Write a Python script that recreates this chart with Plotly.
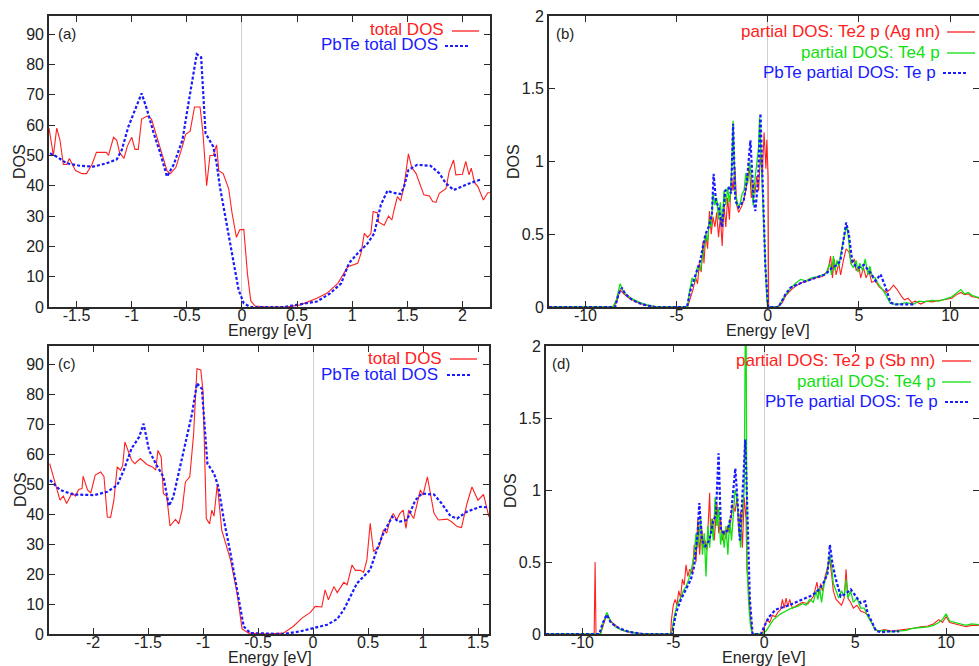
import plotly.graph_objects as go

W, H = 979, 666

# ---------------- data ----------------
# (a) total DOS
a_tot_E = [-1.75, -1.71, -1.68, -1.65, -1.62, -1.59, -1.565, -1.54, -1.51, -1.45, -1.41, -1.36, -1.32, -1.23, -1.21,
           -1.165, -1.135, -1.11, -1.07, -1.04, -1.0, -0.97, -0.94, -0.91, -0.86, -0.82, -0.77, -0.73, -0.68, -0.65,
           -0.60, -0.54, -0.51, -0.47, -0.43, -0.38, -0.355, -0.32, -0.29, -0.26, -0.23, -0.21, -0.17, -0.12, -0.09,
           -0.05, -0.02, 0.017, 0.05, 0.08, 0.12, 0.23, 0.41, 0.53, 0.68, 0.77, 0.87, 0.96, 1.05, 1.08, 1.11, 1.14,
           1.17, 1.19, 1.23, 1.24, 1.29, 1.33, 1.36, 1.38, 1.41, 1.44, 1.47, 1.51, 1.54, 1.58, 1.61, 1.65, 1.70, 1.73,
           1.76, 1.79, 1.85, 1.88, 1.92, 1.94, 2.00, 2.03, 2.06, 2.08, 2.11, 2.14, 2.19, 2.23, 2.26]
a_tot_DOS = [59, 50, 59, 55, 47, 47, 49, 47, 45, 44, 44, 47, 51, 51, 50,
             56, 55, 51, 49, 53, 56, 52, 52, 62, 63, 62, 56, 51, 45, 44,
             46, 53, 57, 58, 66, 66, 58, 40, 50, 50, 53.5, 45, 44, 39, 31,
             23, 25.5, 25.6, 11, 2, 0.3, 0, 0, 0.7, 2.9, 4.5, 7.8, 13.3, 14.4, 17.7, 24.3, 23,
             24.3, 31.5, 31, 28, 27, 30, 28.7, 32, 36.4, 35, 39.7, 50.5, 46, 44, 41, 37, 36.6, 34.8,
             34.5, 37.5, 39, 44.7, 48.5, 43.6, 43.8, 48, 43.6, 45.8, 41, 39.7, 35.3, 37.7, 37.7]
# (a) PbTe total DOS
a_pbte_E = [-1.74, -1.68, -1.59, -1.47, -1.35, -1.23, -1.135, -1.09, -1.03, -0.97, -0.91, -0.86, -0.80, -0.74, -0.68,
            -0.62, -0.54, -0.48, -0.44, -0.41, -0.37, -0.33, -0.26, -0.23, -0.20, -0.15, -0.09, -0.03, 0.017, 0.077,
            0.38, 0.50, 0.68, 0.80, 0.90, 0.97, 1.05, 1.14, 1.20, 1.26, 1.32, 1.36, 1.44, 1.47, 1.51, 1.59, 1.71,
            1.79, 1.85, 1.92, 2.05, 2.17]
a_pbte_DOS = [50.7, 49.6, 47.4, 46.6, 46.3, 47.4, 48.7, 51.8, 59.5, 65, 70.5, 65, 57.3, 50.7, 43,
              46.9, 55, 68.3, 77, 83.4, 82.4, 57.3, 52.9, 47.4, 39.7, 29.8, 17.7, 5.6, 1.2, 0,
              0, 0.7, 1.8, 4.5, 7.8, 14.4, 17.7, 21, 24.3, 33.7, 38.4, 37.7, 37.3, 39.7, 45.2, 46.9, 46.6,
              44.1, 40.8, 38.6, 40.6, 42.1]

# (c) total DOS
c_tot_E = [-2.394, -2.36, -2.33, -2.30, -2.27, -2.24, -2.19, -2.16, -2.13, -2.10, -2.09, -2.05, -2.02, -1.98, -1.93,
           -1.90, -1.87, -1.84, -1.81, -1.78, -1.75, -1.73, -1.71, -1.68, -1.65, -1.62, -1.57, -1.51, -1.46, -1.43,
           -1.41, -1.38, -1.36, -1.33, -1.30, -1.25, -1.22, -1.19, -1.16, -1.12, -1.085, -1.055, -1.02, -1.00, -0.97,
           -0.94, -0.92, -0.90, -0.87, -0.83, -0.75, -0.69, -0.645, -0.585, -0.42, -0.27, -0.18, -0.10, -0.024, 0.02,
           0.08, 0.11, 0.14, 0.19, 0.22, 0.28, 0.31, 0.355, 0.385, 0.43, 0.46, 0.49, 0.52, 0.55, 0.60, 0.64, 0.67,
           0.70, 0.73, 0.76, 0.79, 0.82, 0.845, 0.87, 0.915, 0.976, 1.0, 1.04, 1.10, 1.14, 1.22, 1.26, 1.31, 1.35,
           1.40, 1.445, 1.50, 1.55, 1.60]
c_tot_DOS = [56.8, 52.4, 48, 44.6, 46, 43.5, 47, 46, 48.2, 48.5, 52.6, 48, 47, 53, 54,
             52.4, 39, 38.9, 44.6, 55.7, 54.6, 56.2, 64, 61.2, 58, 56.8, 58.5, 56.5, 55.7, 54.6,
             61.2, 59, 46.8, 46, 36, 38.2, 36.7, 41.3, 50.7, 52.4, 66.8, 88.4, 88, 81, 38.5,
             36.7, 41.3, 39.3, 50, 34.7, 24.7, 13.6, 1.7, 0.3, 0, 0.3, 2.5, 5.3, 7.2, 9.2,
             9, 14.7, 11.4, 15.8, 13.8, 17.2, 16.4, 23, 21.2, 21.2, 20.5, 24.7, 36.9, 27.5, 29.1, 34.7, 33.6,
             38, 40.2, 38, 40.2, 41.3, 35.2, 41.3, 38.5, 48, 46.3, 52.4, 40.2, 38, 38.3, 37.4, 35.8, 35.5,
             43.5, 49, 44.6, 46.5, 39]
# (c) PbTe total DOS
c_pbte_E = [-2.39, -2.30, -2.18, -1.99, -1.87, -1.78, -1.72, -1.65, -1.58, -1.54, -1.49, -1.43, -1.36, -1.31, -1.27,
            -1.21, -1.15, -1.10, -1.055, -1.01, -0.96, -0.90, -0.86, -0.81, -0.75, -0.69, -0.63, -0.57, -0.27, -0.115,
            0.006, 0.13, 0.22, 0.28, 0.34, 0.40, 0.52, 0.58, 0.64, 0.72, 0.78, 0.855, 0.93, 0.99, 1.10, 1.17, 1.25,
            1.31, 1.40, 1.52, 1.60]
c_pbte_DOS = [51.3, 48, 46.5, 46.3, 47.4, 49.6, 54.6, 61.8, 65.7, 70.1, 61.2, 56.8, 52.4, 42.7, 45.7,
              55.7, 64.6, 73.4, 83.6, 81.7, 56.8, 53.5, 49, 38, 26.9, 14.7, 2.5, 0.3, 0, 0.9,
              2, 3.1, 5, 8.1, 12.5, 16.9, 21.4, 28, 33.6, 39.1, 37.4, 38, 44.6, 46.8, 46.5, 43.5, 39.3,
              38.5, 40.8, 42.4, 42.2]

# (b) partial DOS: Te2 p (Ag nn)
b_te2_E = [-12, -8.5, -8.3, -8.1, -7.9, -7.6, -7.2, -6.8, -6.3, -6.0, -4.4, -4.3, -4.1, -3.95, -3.85, -3.75, -3.65,
           -3.55, -3.5, -3.4, -3.3, -3.2, -3.1, -3.0, -2.9, -2.8, -2.7, -2.6, -2.5, -2.4, -2.3, -2.2, -2.1, -2.0,
           -1.9, -1.8, -1.7, -1.6, -1.4, -1.3, -1.2, -1.1, -1.0, -0.9, -0.8, -0.7, -0.6, -0.5, -0.4, -0.3, -0.2,
           -0.1, -0.05, 0.02, 0.05, 0.5, 0.8, 1.0, 1.3, 1.6, 1.9, 2.2, 2.6, 3.0, 3.3, 3.45, 3.55, 3.65, 3.75, 3.9,
           4.0, 4.15, 4.3, 4.45, 4.6, 4.75, 4.85, 5.0, 5.1, 5.25, 5.4, 5.55, 5.7, 5.9, 6.1, 6.3, 6.5, 6.7, 6.9,
           7.1, 7.3, 7.5, 7.7, 7.9, 8.1, 8.4, 8.7, 9.0, 9.4, 9.8, 10.1, 10.3, 10.6, 10.8, 11.0, 11.2, 11.5, 11.7]
b_te2_DOS = [0, 0, 0.03, 0.12, 0.09, 0.06, 0.035, 0.015, 0.003, 0, 0, 0.04, 0.12, 0.2, 0.16, 0.3, 0.24,
             0.45, 0.3, 0.5, 0.4, 0.66, 0.5, 0.62, 0.55, 0.65, 0.48, 0.62, 0.42, 0.7, 0.55, 0.75, 0.6, 0.9,
             0.8, 0.96, 0.7, 0.65, 0.7, 0.75, 0.8, 0.9, 0.95, 0.75, 0.85, 0.78, 0.9, 0.8, 1.05, 0.9, 1.2,
             0.95, 1.15, 0.9, 0.0, 0, 0.03, 0.08, 0.12, 0.15, 0.17, 0.18, 0.2, 0.21, 0.25, 0.35, 0.2, 0.33, 0.22, 0.3,
             0.22, 0.32, 0.4, 0.38, 0.3, 0.33, 0.25, 0.28, 0.2, 0.27, 0.2, 0.25, 0.17, 0.18, 0.14, 0.12, 0.1, 0.12, 0.15,
             0.12, 0.08, 0.05, 0.06, 0.03, 0.04, 0.02, 0.04, 0.035, 0.045, 0.05, 0.06, 0.08, 0.1, 0.085, 0.09, 0.07, 0.065, 0.05]
# (b) partial DOS: Te4 p
b_te4_E = [-12, -8.5, -8.3, -8.1, -7.9, -7.5, -7.0, -6.5, -6.0, -4.4, -4.3, -4.15, -4.0, -3.85, -3.7, -3.6, -3.5,
           -3.4, -3.3, -3.2, -3.1, -3.0, -2.9, -2.8, -2.7, -2.6, -2.5, -2.4, -2.3, -2.2, -2.1, -2.0, -1.9, -1.8,
           -1.7, -1.6, -1.5, -1.4, -1.3, -1.2, -1.1, -1.0, -0.9, -0.8, -0.7, -0.6, -0.5, -0.45, -0.35, -0.25, -0.15,
           -0.05, 0.0, 0.6, 0.9, 1.2, 1.5, 1.8, 2.1, 2.4, 2.8, 3.2, 3.4, 3.5, 3.6, 3.7, 3.8, 3.9, 4.0, 4.1, 4.25,
           4.35, 4.45, 4.55, 4.7, 4.85, 4.95, 5.05, 5.2, 5.35, 5.5, 5.6, 5.75, 5.9, 6.1, 6.3, 6.5, 6.7, 6.9, 7.2,
           7.6, 8.0, 8.3, 8.6, 9.0, 9.4, 9.8, 10.1, 10.4, 10.6, 10.8, 11.0, 11.2, 11.5, 11.7]
b_te4_DOS = [0, 0, 0.05, 0.16, 0.1, 0.06, 0.03, 0.01, 0, 0, 0.1, 0.2, 0.17, 0.28, 0.25, 0.32, 0.4,
             0.5, 0.45, 0.6, 0.55, 0.78, 0.7, 0.75, 0.6, 0.72, 0.55, 0.8, 0.7, 0.82, 0.72, 0.85, 1.28, 0.8,
             0.75, 0.68, 0.72, 0.78, 0.8, 0.92, 0.85, 1.0, 0.9, 0.7, 0.88, 1.0, 1.1, 1.3, 1.0, 0.7, 0.3,
             0.05, 0, 0, 0.07, 0.12, 0.16, 0.19, 0.18, 0.2, 0.21, 0.23, 0.3, 0.22, 0.35, 0.25, 0.32, 0.28, 0.36, 0.42, 0.52,
             0.55, 0.45, 0.3, 0.27, 0.32, 0.24, 0.3, 0.25, 0.33, 0.22, 0.28, 0.2, 0.2, 0.15, 0.12, 0.08, 0.03, 0.02, 0.02,
             0.03, 0.02, 0.04, 0.035, 0.045, 0.04, 0.06, 0.07, 0.1, 0.12, 0.09, 0.1, 0.08, 0.07, 0.06]
# (b) PbTe partial DOS: Te p
b_pbte_E = [-12, -8.37, -8.19, -8.0, -7.82, -7.45, -6.9, -6.17, -4.43, -4.25, -4.07, -3.88, -3.70, -3.42, -3.24,
            -3.06, -2.97, -2.84, -2.69, -2.51, -2.33, -2.14, -2.01, -1.90, -1.78, -1.59, -1.32, -1.14, -0.95, -0.77,
            -0.68, -0.53, -0.40, -0.27, -0.13, 0.02, 0.6, 0.97, 1.25, 1.89, 2.62, 3.17, 3.53, 3.81, 3.99, 4.18, 4.30,
            4.45, 4.63, 4.82, 5.0, 5.27, 5.55, 5.92, 6.19, 6.47, 6.74, 7.01, 8.1]
b_pbte_DOS = [0, 0, 0.087, 0.133, 0.09, 0.05, 0.018, 0, 0, 0.11, 0.18, 0.25, 0.32, 0.50, 0.55,
              0.64, 0.915, 0.73, 0.685, 0.55, 0.80, 0.82, 0.78, 1.26, 0.73, 0.685, 0.73, 0.87, 1.145, 0.73,
              0.66, 0.87, 1.33, 0.82, 0.27, 0, 0, 0.087, 0.133, 0.168, 0.20, 0.225, 0.27, 0.29, 0.32, 0.50, 0.58,
              0.50, 0.32, 0.28, 0.27, 0.29, 0.25, 0.18, 0.225, 0.133, 0.03, 0.018, 0.018]

# (d) partial DOS: Te2 p (Sb nn)
d_te2_E = [-12, -9.35, -9.3, -9.25, -9.0, -8.85, -8.65, -8.45, -8.2, -7.9, -7.5, -7.0, -6.5, -5.15, -5.1, -5.0, -4.9,
           -4.8, -4.7, -4.6, -4.5, -4.4, -4.3, -4.2, -4.1, -3.95, -3.85, -3.75, -3.65, -3.55, -3.45, -3.35, -3.25,
           -3.15, -3.0, -2.95, -2.85, -2.75, -2.6, -2.5, -2.4, -2.3, -2.2, -2.1, -2.0, -1.9, -1.75, -1.6, -1.5, -1.4,
           -1.3, -1.2, -1.1, -1.0, -0.95, -0.85, -0.75, -0.65, -0.1, 0.0, 0.15, 0.3, 0.45, 0.6, 0.75, 0.9, 1.0, 1.1,
           1.2, 1.3, 1.4, 1.55, 1.8, 2.1, 2.4, 2.7, 2.9, 3.0, 3.1, 3.2, 3.35, 3.5, 3.6, 3.7, 3.8, 3.95, 4.1, 4.25,
           4.4, 4.5, 4.6, 4.75, 4.9, 5.1, 5.3, 5.5, 5.7, 5.9, 6.1, 6.3, 6.6, 7.0, 7.4, 7.8, 8.2, 8.6, 9.0, 9.3, 9.6,
           9.8, 10.0, 10.2, 10.5, 10.8, 11.1, 11.4, 11.8]
d_te2_DOS = [0, 0, 0.5, 0, 0, 0.06, 0.14, 0.09, 0.06, 0.03, 0.015, 0.005, 0, 0, 0.1, 0.2, 0.24,
             0.2, 0.3, 0.25, 0.38, 0.34, 0.48, 0.4, 0.45, 0.42, 0.62, 0.5, 0.8, 0.55, 0.75, 0.6, 0.65,
             0.58, 0.98, 0.7, 0.8, 0.65, 0.9, 0.7, 0.8, 0.65, 0.72, 0.66, 0.75, 0.7, 0.9, 0.85, 0.95, 0.7,
             0.85, 0.6, 0.95, 0.8, 0.45, 0.3, 0.1, 0, 0, 0.05, 0.1, 0.08, 0.13, 0.12, 0.15, 0.17, 0.24, 0.18,
             0.25, 0.19, 0.24, 0.18, 0.2, 0.22, 0.21, 0.26, 0.36, 0.27, 0.35, 0.3, 0.4, 0.48, 0.52, 0.42, 0.3, 0.24, 0.22, 0.2,
             0.25, 0.45, 0.25, 0.22, 0.18, 0.2, 0.16, 0.15, 0.13, 0.08, 0.03, 0.02, 0.03, 0.02, 0.025, 0.03, 0.04, 0.05, 0.055, 0.07, 0.1,
             0.08, 0.12, 0.08, 0.07, 0.065, 0.05, 0.06, 0.06]
# (d) partial DOS: Te4 p
d_te4_E = [-12, -9.0, -8.85, -8.65, -8.45, -8.2, -7.8, -7.3, -6.8, -5.1, -4.95, -4.8, -4.6, -4.45, -4.3, -4.15, -4.0,
           -3.85, -3.75, -3.65, -3.5, -3.4, -3.3, -3.2, -3.1, -3.0, -2.9, -2.8, -2.7, -2.6, -2.5, -2.4, -2.3, -2.2,
           -2.1, -2.0, -1.9, -1.8, -1.6, -1.5, -1.4, -1.3, -1.2, -1.1, -1.03, -1.0, -0.95, -0.85, -0.75, -0.65, -0.1,
           0.1, 0.3, 0.5, 0.7, 0.9, 1.2, 1.5, 1.8, 2.1, 2.3, 2.5, 2.7, 2.85, 2.95, 3.05, 3.15, 3.3, 3.45, 3.6, 3.7,
           3.8, 3.95, 4.1, 4.25, 4.4, 4.5, 4.6, 4.75, 4.9, 5.1, 5.3, 5.5, 5.7, 5.9, 6.1, 6.3, 6.6, 7.0, 7.4, 7.8,
           8.2, 8.6, 9.0, 9.3, 9.6, 9.8, 10.0, 10.2, 10.5, 10.8, 11.1, 11.4, 11.8]
d_te4_DOS = [0, 0, 0.08, 0.15, 0.09, 0.05, 0.025, 0.01, 0, 0, 0.12, 0.2, 0.25, 0.3, 0.33, 0.38, 0.45,
             0.55, 0.7, 0.6, 0.8, 0.55, 0.7, 0.4, 0.75, 0.6, 0.8, 0.65, 0.95, 0.75, 0.88, 0.62, 0.72, 0.6,
             0.75, 0.55, 0.8, 0.65, 1.0, 0.95, 0.75, 0.6, 0.85, 1.0, 2.3, 2.3, 0.5, 0.2, 0.05, 0, 0,
             0.02, 0.06, 0.1, 0.12, 0.14, 0.16, 0.18, 0.19, 0.21, 0.2, 0.24, 0.22, 0.3, 0.24, 0.32, 0.22, 0.35, 0.42, 0.55, 0.48,
             0.35, 0.3, 0.25, 0.3, 0.26, 0.38, 0.25, 0.3, 0.22, 0.25, 0.18, 0.18, 0.12, 0.08, 0.03, 0.02, 0.025, 0.015, 0.02, 0.025,
             0.04, 0.045, 0.05, 0.06, 0.08, 0.1, 0.14, 0.09, 0.08, 0.07, 0.06, 0.07, 0.065]
# (d) PbTe partial DOS: Te p
d_pbte_E = [-12, -9.07, -8.88, -8.66, -8.42, -7.97, -7.42, -6.68, -5.07, -4.85, -4.58, -4.30, -4.03, -3.85, -3.66,
            -3.57, -3.42, -3.24, -3.02, -2.80, -2.66, -2.51, -2.38, -2.20, -2.01, -1.83, -1.59, -1.47, -1.34, -1.23,
            -1.04, -0.92, -0.79, -0.64, -0.18, 0.0, 0.27, 0.64, 1.37, 2.1, 2.66, 3.02, 3.30, 3.48, 3.61, 3.75, 3.94,
            4.21, 4.49, 4.76, 5.04, 5.31, 5.55, 5.68, 5.95, 6.14, 6.41, 6.87, 7.42]
d_pbte_DOS = [0, 0, 0.076, 0.134, 0.076, 0.04, 0.014, 0, 0, 0.146, 0.24, 0.31, 0.38, 0.47, 0.70,
              0.91, 0.65, 0.61, 0.65, 0.79, 0.82, 1.255, 0.72, 0.70, 0.72, 0.82, 1.15, 0.93, 0.65, 0.885,
              1.35, 0.82, 0.24, 0, 0, 0.053, 0.12, 0.17, 0.20, 0.24, 0.27, 0.31, 0.365, 0.42, 0.62, 0.49, 0.38,
              0.26, 0.28, 0.31, 0.26, 0.215, 0.227, 0.146, 0.076, 0.023, 0.012, 0.018, 0.018]

# ticks
tot_yticks = [0, 10, 20, 30, 40, 50, 60, 70, 80, 90]
pdos_yticks = [0, 0.5, 1, 1.5, 2]
pdos_yticktext = ["0", "0.5", "1", "1.5", "2"]
a_xticks = [-1.5, -1, -0.5, 0, 0.5, 1, 1.5, 2]
a_xticktext = ["-1.5", "-1", "-0.5", "0", "0.5", "1", "1.5", "2"]
c_xticks = [-2, -1.5, -1, -0.5, 0, 0.5, 1, 1.5]
c_xticktext = ["-2", "-1.5", "-1", "-0.5", "0", "0.5", "1", "1.5"]
pdos_xticks = [-10, -5, 0, 5, 10]
pdos_xticktext = ["-10", "-5", "0", "5", "10"]

# ---------------- styling ----------------
RED = "#ff2020"
GREEN = "#10e010"
BLUE = "#1a1aff"
FONT = "Liberation Sans, Arial, sans-serif"
TXT = "#222222"


def px(x):
    return x / W


def py(y):
    return 1 - y / H


fig = go.Figure()

panels = {
    "a": ("x", "y", (49, 490), (16, 307)),
    "b": ("x2", "y2", (549, 979), (16, 307)),
    "c": ("x3", "y3", (49, 489), (346, 634)),
    "d": ("x4", "y4", (546, 979), (346, 634)),
}


def add_line(panel, E, D, color, width, dash=None):
    xa, ya = panels[panel][0], panels[panel][1]
    line = dict(color=color, width=width)
    if dash:
        line["dash"] = dash
    fig.add_trace(go.Scatter(x=E, y=D, mode="lines", line=line, xaxis=xa, yaxis=ya,
                             showlegend=False, hoverinfo="skip"))


DOT = "3px,2px"
add_line("a", a_tot_E, a_tot_DOS, RED, 1.1)
add_line("a", a_pbte_E, a_pbte_DOS, BLUE, 2.2, DOT)
add_line("c", c_tot_E, c_tot_DOS, RED, 1.1)
add_line("c", c_pbte_E, c_pbte_DOS, BLUE, 2.2, DOT)
add_line("b", b_te2_E, b_te2_DOS, RED, 1.1)
add_line("b", b_te4_E, b_te4_DOS, GREEN, 1.3)
add_line("b", b_pbte_E, b_pbte_DOS, BLUE, 2.2, DOT)
add_line("d", d_te2_E, d_te2_DOS, RED, 1.1)
add_line("d", d_te4_E, d_te4_DOS, GREEN, 1.3)
add_line("d", d_pbte_E, d_pbte_DOS, BLUE, 2.2, DOT)


def axis_common():
    return dict(showline=True, mirror="ticks", linecolor="#2a2a2a", linewidth=1.6,
                ticks="inside", ticklen=6, tickwidth=1.2, tickcolor="#2a2a2a",
                showgrid=False, automargin=False,
                tickfont=dict(family=FONT, size=16, color=TXT))


layout = dict(width=W, height=H, margin=dict(l=0, r=0, t=0, b=0, pad=0, autoexpand=False),
              paper_bgcolor="white", plot_bgcolor="white", showlegend=False)

ranges = {
    "a": ([-1.75, 2.25], [0, 96], a_xticks, a_xticktext, tot_yticks, [str(v) for v in tot_yticks]),
    "b": ([-12, 11.59], [0, 2], pdos_xticks, pdos_xticktext, pdos_yticks, pdos_yticktext),
    "c": ([-2.4, 1.6], [0, 96], c_xticks, c_xticktext, tot_yticks, [str(v) for v in tot_yticks]),
    "d": ([-12, 11.81], [0, 2], pdos_xticks, pdos_xticktext, pdos_yticks, pdos_yticktext),
}

for k, (xa, ya, (x0, x1), (y0, y1)) in panels.items():
    xr, yr, xt, xtt, yt, ytt = ranges[k]
    xn = "xaxis" if xa == "x" else "xaxis" + xa[1:]
    yn = "yaxis" if ya == "y" else "yaxis" + ya[1:]
    xd = axis_common()
    xd.update(domain=[px(x0), px(x1)], range=xr, anchor=ya, tickvals=xt, ticktext=xtt,
              zeroline=True, zerolinecolor="#d0d0d0", zerolinewidth=1, ticklabelstandoff=-7)
    yd = axis_common()
    yd.update(domain=[py(y1), py(y0)], range=yr, anchor=xa, tickvals=yt, ticktext=ytt,
              zeroline=False)
    layout[xn] = xd
    layout[yn] = yd

fig.update_layout(**layout)

ann = []


def text(x, y, s, color=TXT, size=15, xanchor="center", angle=0):
    ann.append(dict(x=px(x), y=py(y), xref="paper", yref="paper", text=s, showarrow=False,
                    xanchor=xanchor, yanchor="middle", textangle=angle, borderpad=0,
                    font=dict(family=FONT, size=size, color=color)))


# axis titles
for (xc, yc) in [(270, 330), (768, 330), (270, 657), (764, 657)]:
    text(xc, yc, "Energy [eV]", size=16)
for (xc, yc) in [(20, 162), (514, 162), (20, 490), (510, 490)]:
    text(xc, yc, "DOS", size=16, angle=-90)

# panel labels
text(57, 34, "(a)", xanchor="left")
text(555, 34, "(b)", xanchor="left")
text(57, 363, "(c)", xanchor="left")
text(551, 363, "(d)", xanchor="left")

shapes = []


def key(xend, y, s, color, s0, s1, dash=None, width=1.3):
    text(xend, y, s, color=color, size=17, xanchor="right")
    line = dict(color=color, width=width)
    if dash:
        line["dash"] = dash
    shapes.append(dict(type="line", xref="paper", yref="paper", x0=px(s0), x1=px(s1),
                       y0=py(y + 1), y1=py(y + 1), line=line))


key(445, 30, "total DOS", RED, 452, 479)
key(439, 45, "PbTe total DOS", BLUE, 445, 468, DOT, 2.2)
key(443, 358, "total DOS", RED, 450, 477)
key(439, 374, "PbTe total DOS", BLUE, 447, 470, DOT, 2.2)
key(941, 31, "partial DOS: Te2 p (Ag nn)", RED, 947, 975)
key(941, 52, "partial DOS: Te4 p", GREEN, 947, 975)
key(937, 72, "PbTe partial DOS: Te p", BLUE, 943, 968, DOT, 2.2)
key(936, 360, "partial DOS: Te2 p (Sb nn)", RED, 942, 971)
key(937, 381, "partial DOS: Te4 p", GREEN, 942, 971)
key(939, 401, "PbTe partial DOS: Te p", BLUE, 945, 970, DOT, 2.2)

fig.update_layout(annotations=ann, shapes=shapes)
fig.write_html("out.html", config={"displayModeBar": False},
               post_script="document.body.style.margin='0';")
